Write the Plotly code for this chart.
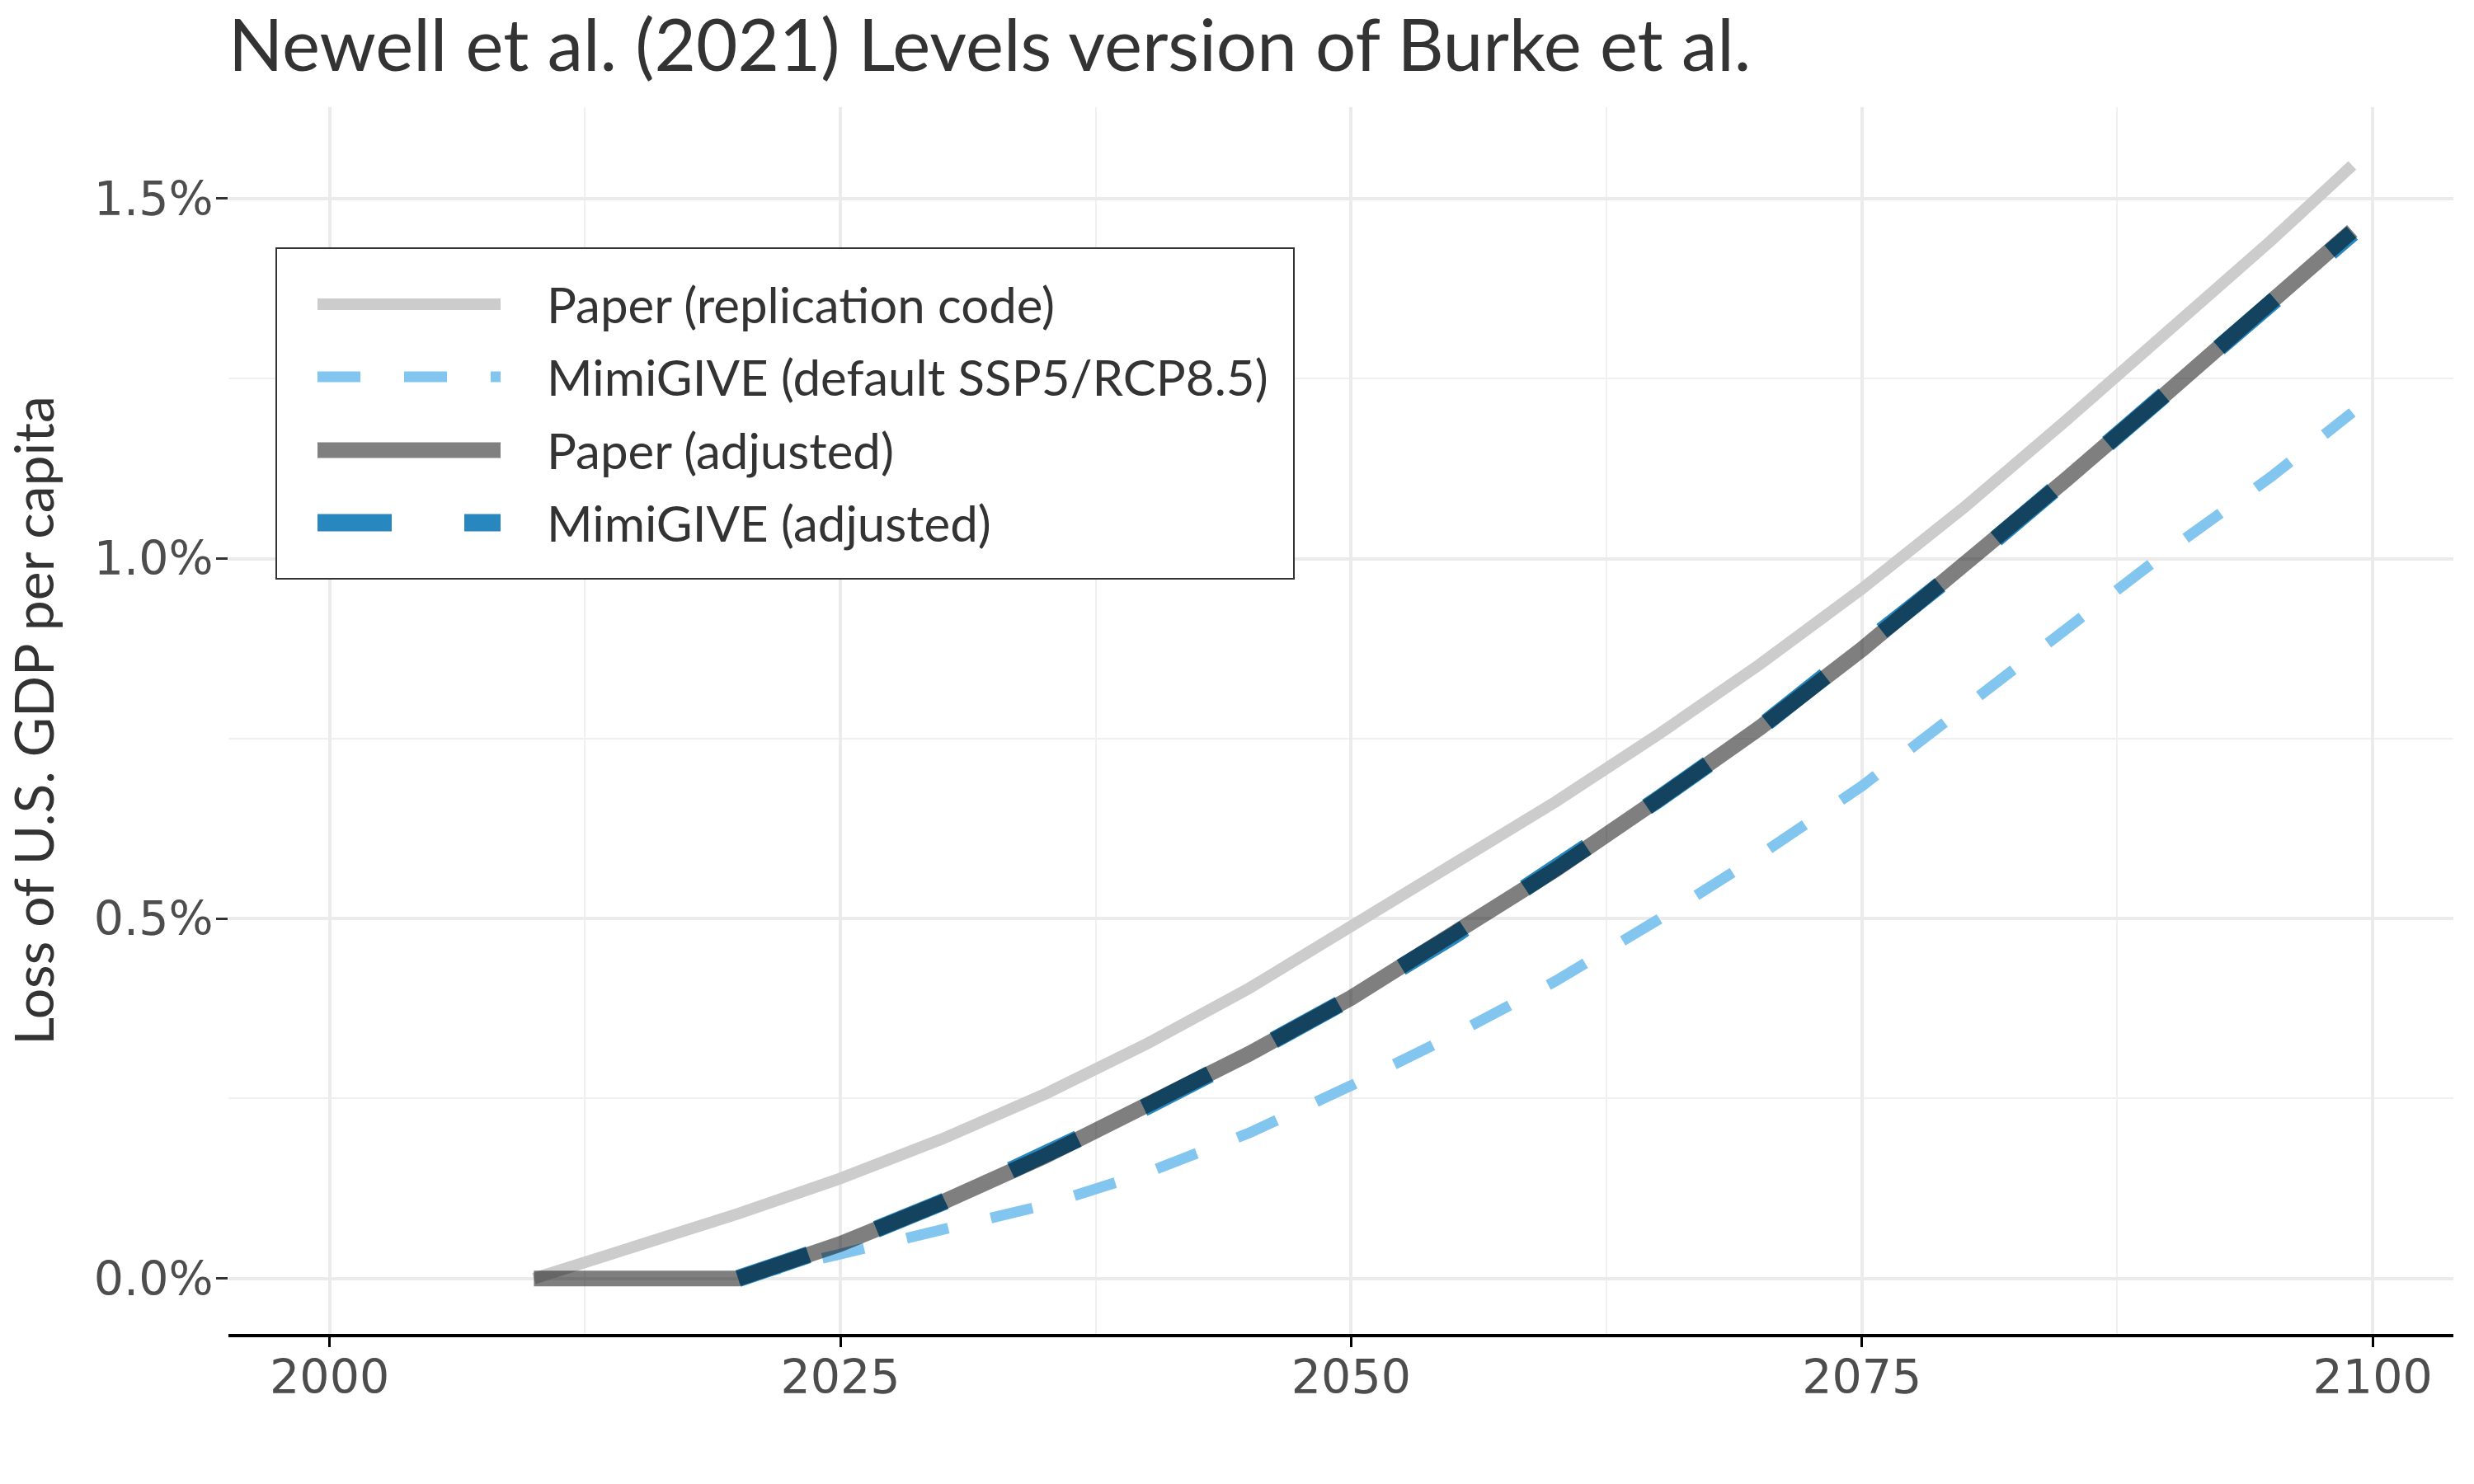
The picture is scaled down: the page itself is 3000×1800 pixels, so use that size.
import plotly.graph_objects as go

# ---- data (loss in % of U.S. GDP per capita) ----
years_paper = [2010, 2015, 2020, 2025, 2030, 2035, 2040, 2045, 2050, 2055, 2060,
               2065, 2070, 2075, 2080, 2085, 2090, 2095, 2099]
paper_replication = [0.000, 0.043, 0.090, 0.139, 0.194, 0.256, 0.326, 0.403, 0.488, 0.574, 0.662,
                     0.755, 0.853, 0.958, 1.071, 1.192, 1.316, 1.441, 1.546]
paper_adjusted = [0.000, 0.000, 0.000, 0.048, 0.106, 0.170, 0.239, 0.312, 0.390, 0.476, 0.568,
                  0.665, 0.765, 0.874, 0.990, 1.110, 1.232, 1.352, 1.455]

years_give = [2020, 2025, 2030, 2035, 2040, 2045, 2050, 2055, 2060,
              2065, 2070, 2075, 2080, 2085, 2090, 2095, 2099]
give_default = [0.000, 0.034, 0.065, 0.102, 0.147, 0.202, 0.268, 0.338, 0.413,
                0.498, 0.588, 0.684, 0.793, 0.903, 1.011, 1.113, 1.203]
give_adjusted = [0.000, 0.048, 0.106, 0.170, 0.239, 0.312, 0.390, 0.476, 0.568,
                 0.665, 0.765, 0.874, 0.990, 1.110, 1.232, 1.352, 1.452]

series_names = ["Paper (replication code)", "MimiGIVE (default SSP5/RCP8.5)",
                "Paper (adjusted)", "MimiGIVE (adjusted)"]
x_ticks = [2000, 2025, 2050, 2075, 2100]
y_ticks = [0.0, 0.5, 1.0, 1.5]
y_ticktext = ["0.0%", "0.5%", "1.0%", "1.5%"]

# ---- styles ----
C_LIGHTGRAY = "#CCCCCC"
C_LIGHTBLUE = "#82C5EE"
C_GRAY = "rgba(0,0,0,0.5)"
C_BLUE = "#2887BF"
W = [14, 13, 19, 21]
DASH = ["solid", "52px,53px", "solid", "90px,88px"]
COLORS = [C_LIGHTGRAY, C_LIGHTBLUE, C_GRAY, C_BLUE]

FONT = "Lato"
TICKFONT = "DejaVu Sans"

fig = go.Figure()
# draw order: light gray, light blue, blue adjusted, gray adjusted on top
fig.add_trace(go.Scatter(x=years_paper, y=paper_replication, mode="lines",
                         line=dict(color=C_LIGHTGRAY, width=W[0]), showlegend=False,
                         name=series_names[0]))
fig.add_trace(go.Scatter(x=years_give, y=give_default, mode="lines",
                         line=dict(color=C_LIGHTBLUE, width=W[1], dash=DASH[1]), showlegend=False,
                         name=series_names[1]))
fig.add_trace(go.Scatter(x=years_give, y=give_adjusted, mode="lines",
                         line=dict(color=C_BLUE, width=W[3], dash=DASH[3]), showlegend=False,
                         name=series_names[3]))
fig.add_trace(go.Scatter(x=years_paper, y=paper_adjusted, mode="lines",
                         line=dict(color=C_GRAY, width=W[2]), showlegend=False,
                         name=series_names[2]))

# ---- layout geometry (pixels) ----
L, R, T, B = 277, 25, 130, 182
PW, PH = 3000 - L - R, 1800 - T - B


def px_x(p):
    return (p - L) / PW


def px_y(p):
    return (1800 - B - p) / PH


fig.update_layout(
    width=3000, height=1800,
    margin=dict(l=L, r=R, t=T, b=B, pad=0),
    plot_bgcolor="white", paper_bgcolor="white",
    title=dict(text="Newell et al. (2021) Levels version of Burke et al.",
               x=0, xanchor="left", xref="paper",
               y=1 - 56 / 1800, yanchor="middle", yref="container",
               font=dict(family=FONT, size=87, color="#333333")),
    xaxis=dict(range=[1995.05, 2103.95], tickvals=x_ticks, ticks="outside",
               ticklen=12, tickwidth=3, tickcolor="black",
               showline=True, linecolor="black", linewidth=4,
               showgrid=True, gridcolor="#EBEBEB", gridwidth=3.5, zeroline=False,
               ticklabelstandoff=-12,
               tickfont=dict(family=TICKFONT, size=57, color="#4D4D4D"),
               minor=dict(tick0=2000, dtick=12.5, showgrid=True, gridcolor="#F0F0F0",
                          gridwidth=1.8, ticks="")),
    yaxis=dict(range=[-0.077, 1.627], tickvals=y_ticks, ticktext=y_ticktext,
               ticks="outside", ticklen=14, tickwidth=3, tickcolor="#333333",
               showline=False, zeroline=False,
               showgrid=True, gridcolor="#EBEBEB", gridwidth=3.5,
               ticklabelstandoff=-8,
               tickfont=dict(family=TICKFONT, size=57, color="#4D4D4D"),
               title=dict(text="Loss of U.S. GDP per capita", standoff=26,
                          font=dict(family=FONT, size=66, color="#333333")),
               minor=dict(tick0=0, dtick=0.25, showgrid=True, gridcolor="#F0F0F0",
                          gridwidth=1.8, ticks="")),
)

# ---- legend (drawn in paper coordinates) ----
shapes = [dict(type="rect", xref="paper", yref="paper",
               x0=px_x(335), x1=px_x(1569), y0=px_y(702), y1=px_y(301),
               line=dict(color="#333333", width=2), fillcolor="white", layer="above")]
annotations = []
row_y = [369, 457, 546, 634]
for i, name in enumerate(series_names):
    yy = px_y(row_y[i])
    shapes.append(dict(type="line", xref="paper", yref="paper",
                       x0=px_x(385), x1=px_x(607), y0=yy, y1=yy, layer="above",
                       line=dict(color=COLORS[i] if i != 2 else "#808080", width=W[i],
                                 dash=DASH[i])))
    annotations.append(dict(text=name, xref="paper", yref="paper", x=px_x(661), y=yy,
                            xanchor="left", yanchor="middle", showarrow=False,
                            font=dict(family=FONT, size=60, color="#333333")))
fig.update_layout(shapes=shapes, annotations=annotations)

fig.write_html("out.html")
